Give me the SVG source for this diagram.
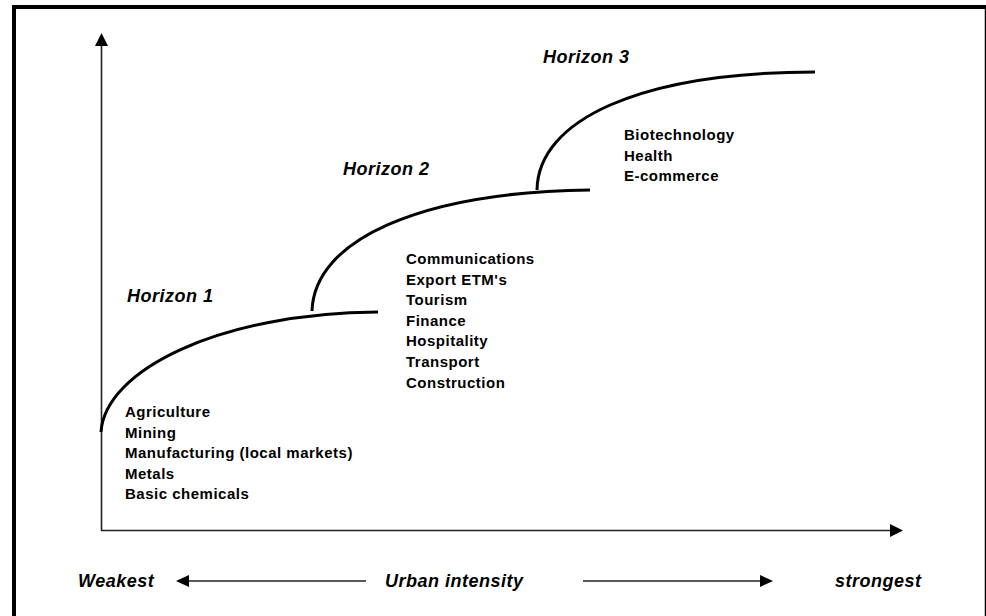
<svg xmlns="http://www.w3.org/2000/svg" width="986" height="616" viewBox="0 0 986 616">
<defs>
<style>
.frame{stroke:#000;fill:none}
.axis{stroke:#222;stroke-width:1.6;fill:none}
.curve{stroke:#000;stroke-width:3;fill:none}
.head{fill:#000}
.lbl{font-family:"Liberation Sans",Arial,sans-serif;font-weight:bold;font-size:15px;fill:#000;letter-spacing:0.5px}
.hz{font-family:"Liberation Sans",Arial,sans-serif;font-weight:bold;font-style:italic;font-size:18px;fill:#000;letter-spacing:0.5px}
</style>
</defs>
<rect width="986" height="616" fill="#fff"/>
<g id="frame">
<line class="frame" x1="12" y1="7" x2="986" y2="7" stroke-width="4"/>
<line class="frame" x1="14" y1="5" x2="14" y2="616" stroke-width="4"/>
<line class="frame" x1="985.5" y1="7" x2="985.5" y2="616" stroke-width="1.5"/>
</g>
<g id="connectors">
<line class="axis" x1="101.5" y1="45" x2="101.5" y2="531"/>
<polygon class="head" points="101.5,33 95,46 108,46"/>
<line class="axis" x1="101" y1="530.5" x2="891" y2="530.5"/>
<polygon class="head" points="903,530.5 890,524 890,537"/>
<line class="axis" x1="188" y1="581" x2="366" y2="581"/>
<polygon class="head" points="176,581 189,575 189,587"/>
<line class="axis" x1="583" y1="581" x2="761" y2="581"/>
<polygon class="head" points="773,581 760,575 760,587"/>
</g>
<g id="curve1">
<path class="curve" d="M101,432 C105,370 220,313 378,312"/>
</g>
<g id="curve2">
<path class="curve" d="M312,311 C314,240 420,192 590,190"/>
</g>
<g id="curve3">
<path class="curve" d="M537,190 C538,120 640,72 815,72"/>
</g>
<g id="horizon1">
<text class="hz" x="127" y="302">Horizon 1</text>
<text class="lbl" x="125" y="417">Agriculture</text>
<text class="lbl" x="125" y="437.5">Mining</text>
<text class="lbl" x="125" y="458">Manufacturing (local markets)</text>
<text class="lbl" x="125" y="478.5">Metals</text>
<text class="lbl" x="125" y="499">Basic chemicals</text>
</g>
<g id="horizon2">
<text class="hz" x="343" y="175">Horizon 2</text>
<text class="lbl" x="406" y="264">Communications</text>
<text class="lbl" x="406" y="284.6">Export ETM's</text>
<text class="lbl" x="406" y="305.2">Tourism</text>
<text class="lbl" x="406" y="325.8">Finance</text>
<text class="lbl" x="406" y="346.4">Hospitality</text>
<text class="lbl" x="406" y="367">Transport</text>
<text class="lbl" x="406" y="387.6">Construction</text>
</g>
<g id="horizon3">
<text class="hz" x="543" y="63">Horizon 3</text>
<text class="lbl" x="624" y="140">Biotechnology</text>
<text class="lbl" x="624" y="160.5">Health</text>
<text class="lbl" x="624" y="181">E-commerce</text>
</g>
<g id="scale">
<text class="hz" x="78" y="587">Weakest</text>
<text class="hz" x="385" y="587">Urban intensity</text>
<text class="hz" x="835" y="587">strongest</text>
</g>
</svg>
